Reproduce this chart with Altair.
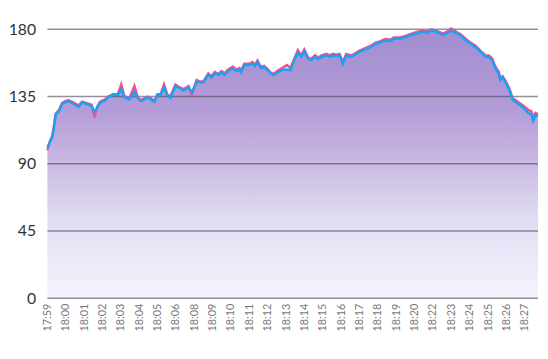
import altair as alt
import pandas as pd

# x position in "label units" (0 = 17:59 label, 26 = 18:27 label)
x_pos = [0, 0.12, 0.27, 0.36, 0.45, 0.63, 0.80, 0.99, 1.16, 1.43, 1.70, 1.88, 2.14, 2.41, 2.56, 2.69, 2.86, 3.13, 3.31, 3.58,
         3.84, 4.02, 4.20, 4.47, 4.74, 4.92, 5.09, 5.28, 5.45, 5.63, 5.81, 5.99, 6.17, 6.35, 6.52, 6.70, 6.97, 7.15, 7.42, 7.69,
         7.87, 8.13, 8.31, 8.49, 8.76, 8.94, 9.12, 9.30, 9.48, 9.65, 9.83, 10.10, 10.28, 10.46, 10.55, 10.72, 10.99, 11.17, 11.30, 11.44,
         11.62, 11.80, 11.98, 12.16, 12.33, 12.51, 12.78, 13.05, 13.23, 13.40, 13.64, 13.82, 13.99, 14.18, 14.35, 14.57, 14.75, 14.93, 15.20, 15.38,
         15.55, 15.73, 15.91, 16.09, 16.27, 16.54, 16.71, 16.98, 17.25, 17.61, 17.88, 18.14, 18.41, 18.68, 18.86, 19.22, 19.49, 19.84, 20.20, 20.47,
         20.64, 20.91, 21.18, 21.27, 21.54, 21.72, 21.98, 22.25, 22.52, 22.79, 23.06, 23.32, 23.59, 23.86, 24.04, 24.22, 24.40, 24.58, 24.66, 24.79,
         24.97, 25.15, 25.33, 25.56, 25.79, 26.01, 26.19, 26.36, 26.46, 26.58, 26.72]

blue = [101, 104, 108, 115, 123, 125, 130, 131, 132, 130, 128, 131, 130, 128.5, 125, 127, 131, 132, 134.5, 136,
        136, 140, 134.5, 133, 138, 134, 132, 133, 134.5, 133, 131.4, 136, 136, 141, 136, 134, 142, 141, 139, 141,
        138, 145, 144.5, 144.4, 149.5, 147.7, 150.5, 149.5, 151, 149.5, 152, 153.8, 152, 153, 151, 156, 156, 157, 155.5, 158,
        154, 154.5, 152.8, 150.5, 149.4, 151, 152.8, 153, 152.5, 158, 164.4, 161.5, 165.3, 160.5, 159.3, 161.5, 160, 161.5, 162.6, 161.5,
        162.6, 162, 162.6, 157, 162.6, 161.5, 162.6, 164.8, 166, 168, 170.3, 171, 172.5, 172, 173.6, 173.6, 174.7, 176.3, 177.6, 178.5,
        177.6, 179, 178.5, 177.6, 176.3, 177, 179, 177.6, 175.8, 172.5, 170.3, 168, 164.8, 161.5, 161.5, 159.4, 153.8, 150.5, 146, 148,
        144, 139.5, 133, 130.8, 128.6, 126.4, 124, 123, 118.7, 122.6, 122]

pink = [99, 104.5, 109, 115.5, 123.5, 126, 130.5, 132, 132.5, 131, 129, 131.5, 130.5, 129.5, 121, 127.5, 131.5, 133, 135, 136.5,
        136.5, 143, 135, 134, 142, 134.5, 132.5, 134, 135, 134, 132, 136.5, 136.5, 143, 136.5, 135, 143, 141.5, 140, 142,
        136, 146, 145, 145, 150.5, 148.5, 151.5, 150, 152, 150.5, 153, 155, 153, 154, 152, 157, 157, 158, 156, 159,
        155, 155.5, 153.5, 151, 150, 152, 154, 156, 154, 159, 166, 162.5, 166.5, 161.5, 160, 162.5, 161, 162.5, 163.5, 162.5,
        163.5, 163, 163.5, 158, 163.5, 162.5, 163.5, 165.5, 167, 169, 171, 172, 173.5, 173, 174.5, 174.5, 175.5, 177, 178.5, 179,
        178.5, 180, 179, 178.5, 177, 178, 180.5, 178.5, 176.5, 173.5, 171, 169, 165.5, 162.5, 162.5, 160.5, 155, 151.5, 147.5, 148.5,
        145, 140.5, 134, 132, 130, 128, 126, 125, 121, 124, 123]

tick_labels = ["17:59", "18:00", "18:01", "18:02", "18:03", "18:04", "18:05", "18:06", "18:08", "18:09",
               "18:10", "18:11", "18:12", "18:13", "18:14", "18:15", "18:16", "18:17", "18:18", "18:19",
               "18:20", "18:22", "18:23", "18:24", "18:25", "18:26", "18:27"]
y_ticks = [0, 45, 90, 135, 180]

df = pd.DataFrame({"x": x_pos, "blue": blue, "pink": pink})
grid_df = pd.DataFrame({"v": y_ticks})

label_expr = "[" + ",".join("'" + t + "'" for t in tick_labels) + "][datum.value]"

xscale = alt.Scale(domain=[0, max(x_pos)], nice=False, zero=False)
yscale = alt.Scale(domain=[0, 180], nice=False)

x_axis = alt.Axis(values=list(range(len(tick_labels))), labelExpr=label_expr,
                  labelAngle=270, labelAlign="right", labelBaseline="middle",
                  labelFontSize=11, labelColor="#777777", labelFont="Lato",
                  labelPadding=5, ticks=False, tickSize=0, domain=False, grid=False,
                  labelOverlap=False, labelBound=False, labelFlush=False)
y_axis = alt.Axis(values=y_ticks, labelFontSize=16, labelColor="#333333", labelFont="Lato",
                  labelPadding=12, ticks=False, tickSize=0, domain=False, grid=False)

area = alt.Chart(df).mark_area(
    color=alt.Gradient(
        gradient="linear",
        stops=[alt.GradientStop(color="#a28dd0", offset=0),
               alt.GradientStop(color="#b39dd8", offset=0.3),
               alt.GradientStop(color="#c8b6e2", offset=0.48),
               alt.GradientStop(color="#e0dcf2", offset=0.7),
               alt.GradientStop(color="#f3f5fd", offset=1)],
        x1=0, x2=0, y1=0, y2=1),
    interpolate="linear"
).encode(
    x=alt.X("x:Q", scale=xscale, title=None, axis=x_axis),
    y=alt.Y("blue:Q", scale=yscale, title=None, axis=y_axis),
)

grid = alt.Chart(grid_df).mark_rule(color="#4a4858", opacity=0.6, strokeWidth=1.5).encode(
    y=alt.Y("v:Q", scale=yscale, title=None, axis=y_axis),
)

pink_line = alt.Chart(df).mark_line(color="#f2508e", strokeWidth=2.5).encode(
    x=alt.X("x:Q", scale=xscale, title=None, axis=x_axis),
    y=alt.Y("pink:Q", scale=yscale, title=None, axis=y_axis))
blue_line = alt.Chart(df).mark_line(color="#1ea0f2", strokeWidth=2.5).encode(
    x=alt.X("x:Q", scale=xscale, title=None, axis=x_axis),
    y=alt.Y("blue:Q", scale=yscale, title=None, axis=y_axis))

chart = alt.layer(area, grid, pink_line, blue_line).properties(
    width=498, height=273,
    autosize=alt.AutoSizeParams(type="none"),
    padding={"left": 40, "top": 19, "right": 2, "bottom": 50},
).configure_view(stroke=None)

chart.save("out.html", embed_options={"renderer": "svg", "actions": False})
